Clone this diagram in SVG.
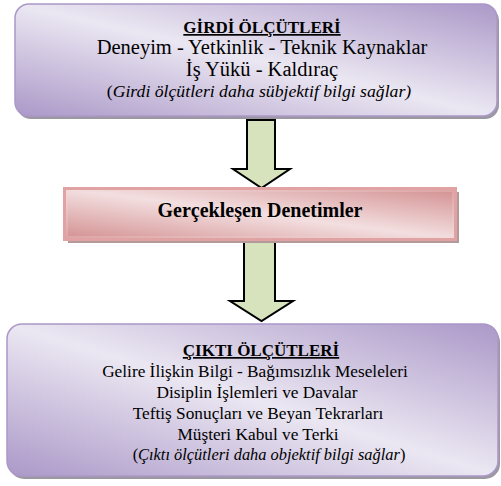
<svg xmlns="http://www.w3.org/2000/svg" width="501" height="486" viewBox="0 0 501 486">
  <defs>
    <linearGradient id="purple" x1="1" y1="0" x2="0" y2="1">
      <stop offset="0" stop-color="#ab98c8"/>
      <stop offset="0.5" stop-color="#ebe7f2"/>
      <stop offset="1" stop-color="#ab98c8"/>
    </linearGradient>
    <linearGradient id="pink" x1="1" y1="0" x2="0" y2="1">
      <stop offset="0" stop-color="#d38f90"/>
      <stop offset="0.5" stop-color="#f3dfe0"/>
      <stop offset="1" stop-color="#d38f90"/>
    </linearGradient>
    <style>
      .box { fill: url(#purple); stroke: #ab98c8; stroke-width: 1.5; }
      .shadow { fill: #9c98a2; }
      .mid { fill: url(#pink); stroke: #e0a2a3; stroke-width: 3; }
      .midshadow { fill: #b39a9a; }
      .arrow { fill: #d6e3bc; stroke: #000; stroke-width: 2; stroke-linejoin: miter; }
      text { font-family: "Liberation Serif", "Times New Roman", serif; fill: #000; text-anchor: middle; }
      .title { font-weight: bold; font-size: 17px; text-decoration: underline; }
      .big { font-size: 20.5px; }
      .small { font-size: 17.3px; }
      .itl { font-size: 17.7px; }
      .itl2 { font-size: 16.4px; }
      .it { font-style: italic; }
      .midtxt { font-weight: bold; font-size: 20px; }
    </style>
  </defs>

  <g id="connectors">
    <polygon class="arrow" points="247,120 275,120 275,169 290,169 261.5,188 233,169 247,169"/>
    <polygon class="arrow" points="244,242 275,242 275,301 293,301 261.5,321 230,301 244,301"/>
  </g>

  <g id="girdi">
    <rect class="shadow" x="17" y="7" width="482" height="112" rx="14"/>
    <rect class="box" x="15" y="4" width="482" height="112" rx="14"/>
    <text class="title" x="262" y="33">GİRDİ ÖLÇÜTLERİ</text>
    <text class="big" x="262" y="54">Deneyim - Yetkinlik - Teknik Kaynaklar</text>
    <text class="big" x="262" y="76">İş Yükü - Kaldıraç</text>
    <text class="itl" x="259" y="97">(<tspan class="it">Girdi ölçütleri daha sübjektif bilgi sağlar)</tspan></text>
  </g>

  <g id="denetimler">
    <rect class="midshadow" x="68" y="192" width="391" height="51"/>
    <rect class="mid" x="64.5" y="188.5" width="391" height="51"/>
    <rect x="67" y="191" width="386" height="46" fill="none" stroke="#f2d6d6" stroke-width="0.8" opacity="0.7"/>
    <text class="midtxt" x="260" y="217">Gerçekleşen Denetimler</text>
  </g>

  <g id="cikti">
    <rect class="shadow" x="9" y="327" width="491" height="152" rx="15"/>
    <rect class="box" x="7" y="324" width="491" height="152" rx="15"/>
    <text class="title" x="261" y="356">ÇIKTI ÖLÇÜTLERİ</text>
    <text class="small" x="255" y="377">Gelire İlişkin Bilgi - Bağımsızlık Meseleleri</text>
    <text class="small" x="257" y="398">Disiplin İşlemleri ve Davalar</text>
    <text class="small" x="258" y="419">Teftiş Sonuçları ve Beyan Tekrarları</text>
    <text class="small" x="258" y="440">Müşteri Kabul ve Terki</text>
    <text class="itl2" x="269" y="460">(<tspan class="it">Çıktı ölçütleri daha objektif bilgi sağlar</tspan>)</text>
  </g>
</svg>
